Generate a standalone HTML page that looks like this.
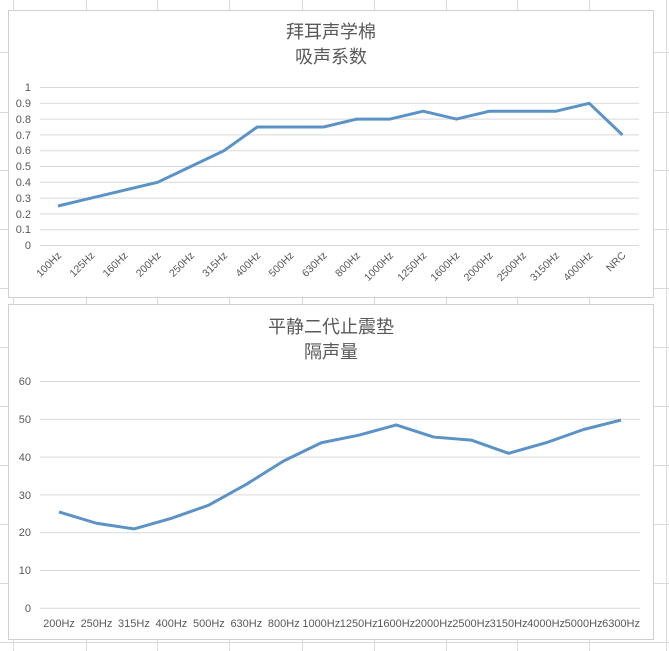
<!DOCTYPE html>
<html><head><meta charset="utf-8"><style>
body{margin:0;width:669px;height:651px;overflow:hidden;background:#fff}
svg{display:block}
text{font-family:"Liberation Sans","Noto Sans CJK SC",sans-serif;fill:#595959}
</style></head><body>
<svg width="669" height="651" viewBox="0 0 669 651">
<g stroke="#d9d9d9" stroke-width="1">
<line x1="13.5" y1="0" x2="13.5" y2="651"/><line x1="86.5" y1="0" x2="86.5" y2="651"/><line x1="157.5" y1="0" x2="157.5" y2="651"/><line x1="229.5" y1="0" x2="229.5" y2="651"/><line x1="302.5" y1="0" x2="302.5" y2="651"/><line x1="374.5" y1="0" x2="374.5" y2="651"/><line x1="446.5" y1="0" x2="446.5" y2="651"/><line x1="517.5" y1="0" x2="517.5" y2="651"/><line x1="589.5" y1="0" x2="589.5" y2="651"/><line x1="666.5" y1="0" x2="666.5" y2="651"/>
<line x1="0" y1="52.5" x2="669" y2="52.5"/><line x1="0" y1="112.5" x2="669" y2="112.5"/><line x1="0" y1="170.5" x2="669" y2="170.5"/><line x1="0" y1="229.5" x2="669" y2="229.5"/><line x1="0" y1="288.5" x2="669" y2="288.5"/><line x1="0" y1="347.5" x2="669" y2="347.5"/><line x1="0" y1="406.5" x2="669" y2="406.5"/><line x1="0" y1="465.5" x2="669" y2="465.5"/><line x1="0" y1="524.5" x2="669" y2="524.5"/><line x1="0" y1="583.5" x2="669" y2="583.5"/><line x1="0" y1="642.5" x2="669" y2="642.5"/>
</g>
<rect x="8.5" y="10.5" width="645" height="287" fill="#fff" stroke="#d0d0d0"/>
<rect x="8.5" y="304.5" width="645" height="335" fill="#fff" stroke="#d0d0d0"/>
<g stroke="#d9d9d9">
<line x1="40" y1="87.5" x2="639" y2="87.5"/><line x1="40" y1="103.3" x2="639" y2="103.3"/><line x1="40" y1="119.1" x2="639" y2="119.1"/><line x1="40" y1="134.9" x2="639" y2="134.9"/><line x1="40" y1="150.7" x2="639" y2="150.7"/><line x1="40" y1="166.5" x2="639" y2="166.5"/><line x1="40" y1="182.3" x2="639" y2="182.3"/><line x1="40" y1="198.1" x2="639" y2="198.1"/><line x1="40" y1="213.9" x2="639" y2="213.9"/><line x1="40" y1="229.7" x2="639" y2="229.7"/><line x1="40" y1="245.5" x2="639" y2="245.5"/>
<line x1="40" y1="381.5" x2="640" y2="381.5"/><line x1="40" y1="419.3" x2="640" y2="419.3"/><line x1="40" y1="457.1" x2="640" y2="457.1"/><line x1="40" y1="494.9" x2="640" y2="494.9"/><line x1="40" y1="532.7" x2="640" y2="532.7"/><line x1="40" y1="570.5" x2="640" y2="570.5"/><line x1="40" y1="608.3" x2="640" y2="608.3"/>
</g>
<text x="331" y="38" font-size="18" text-anchor="middle">拜耳声学棉</text>
<text x="331" y="63" font-size="18" text-anchor="middle">吸声系数</text>
<text x="331" y="333" font-size="18" text-anchor="middle">平静二代止震垫</text>
<text x="331" y="358" font-size="18" text-anchor="middle">隔声量</text>
<g font-size="11" text-anchor="end">
<text x="31" y="91">1</text><text x="31" y="107">0.9</text><text x="31" y="123">0.8</text><text x="31" y="139">0.7</text><text x="31" y="154">0.6</text><text x="31" y="170">0.5</text><text x="31" y="186">0.4</text><text x="31" y="202">0.3</text><text x="31" y="218">0.2</text><text x="31" y="233">0.1</text><text x="31" y="249">0</text>
<text x="31" y="385">60</text><text x="31" y="423">50</text><text x="31" y="461">40</text><text x="31" y="499">30</text><text x="31" y="536">20</text><text x="31" y="574">10</text><text x="31" y="612">0</text>
</g>
<g font-size="10.5" text-anchor="end" id="xl"></g>
<g font-size="11" text-anchor="middle" id="xl2"></g>
<polyline id="p1" fill="none" stroke="#5b93c7" stroke-width="3" stroke-linejoin="round"/>
<polyline id="p2" fill="none" stroke="#5b93c7" stroke-width="3" stroke-linejoin="round"/>
</svg>
<script>
var NS="http://www.w3.org/2000/svg";
var c1=["100Hz","125Hz","160Hz","200Hz","250Hz","315Hz","400Hz","500Hz","630Hz","800Hz","1000Hz","1250Hz","1600Hz","2000Hz","2500Hz","3150Hz","4000Hz","NRC"];
var v1=[.25,.3,.35,.4,.5,.6,.75,.75,.75,.8,.8,.85,.8,.85,.85,.85,.9,.7];
var c2=["200Hz","250Hz","315Hz","400Hz","500Hz","630Hz","800Hz","1000Hz","1250Hz","1600Hz","2000Hz","2500Hz","3150Hz","4000Hz","5000Hz","6300Hz"];
var v2=[25.5,22.5,21,23.8,27.3,32.8,39,43.8,45.8,48.5,45.3,44.5,41,43.8,47.3,49.8];
var p=[],g=document.getElementById("xl");
for(var i=0;i<18;i++){var x=58+i*33.2;p.push(x+","+(245.5-v1[i]*158));
var t=document.createElementNS(NS,"text");t.setAttribute("x",x+4);t.setAttribute("y",256);t.setAttribute("transform","rotate(-45 "+(x+4)+" 256)");t.textContent=c1[i];g.appendChild(t);}
document.getElementById("p1").setAttribute("points",p.join(" "));
p=[];g=document.getElementById("xl2");
for(i=0;i<16;i++){x=59+i*37.47;p.push(x+","+(608.3-v2[i]*3.78));
t=document.createElementNS(NS,"text");t.setAttribute("x",x);t.setAttribute("y",627);t.textContent=c2[i];g.appendChild(t);}
document.getElementById("p2").setAttribute("points",p.join(" "));
</script>
</body></html>
